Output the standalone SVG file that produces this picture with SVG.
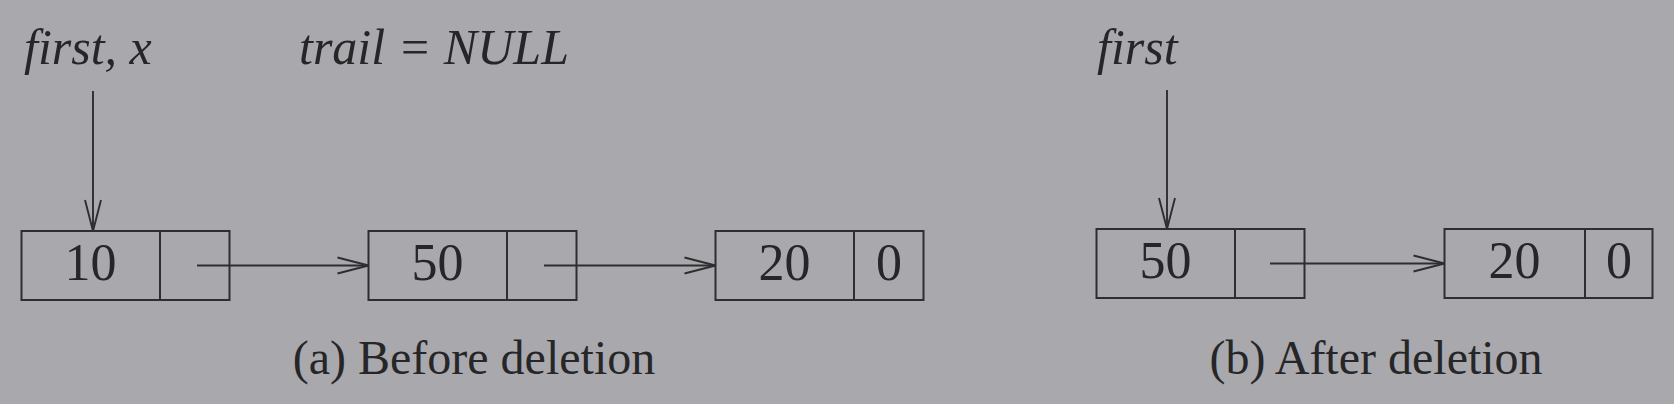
<svg xmlns="http://www.w3.org/2000/svg" width="1674" height="404" viewBox="0 0 1674 404">
<style>
.bg{fill:#a9a9ad}
.box{fill:none;stroke:#2e2e30;stroke-width:2}
.ln{fill:none;stroke:#2e2e30;stroke-width:1.9}
.t{font-family:"Liberation Serif","Times New Roman",serif;font-size:48px;fill:#262628}
.it{font-style:italic;font-size:50px}
.n{font-size:52px}
.c{text-anchor:middle}
</style>
<defs>
<marker id="ah" markerUnits="userSpaceOnUse" markerWidth="40" markerHeight="24" refX="32" refY="12" orient="auto">
<path d="M1,4 L32,12 L1,20" fill="none" stroke="#2e2e30" stroke-width="1.9"/>
</marker>
</defs>
<rect class="bg" x="0" y="0" width="1674" height="404"/>

<g id="label-first-x"><text class="t it" x="24" y="64">first, x</text></g>
<g id="label-trail"><text class="t it" x="299" y="64">trail = NULL</text></g>
<g id="label-first-b"><text class="t it" x="1097" y="64">first</text></g>

<g id="node-a10">
<rect class="box" x="21.5" y="231" width="208" height="69"/>
<line class="box" x1="160" y1="231" x2="160" y2="300"/>
<text class="t n c" x="90.5" y="280">10</text>
</g>
<g id="node-a50">
<rect class="box" x="368.5" y="231" width="208" height="69"/>
<line class="box" x1="507" y1="231" x2="507" y2="300"/>
<text class="t n c" x="437.5" y="280">50</text>
</g>
<g id="node-a20">
<rect class="box" x="715.5" y="231" width="208" height="69"/>
<line class="box" x1="854" y1="231" x2="854" y2="300"/>
<text class="t n c" x="784.5" y="280">20</text>
<text class="t n c" x="889" y="280">0</text>
</g>

<g id="node-b50">
<rect class="box" x="1096.5" y="229" width="208" height="69"/>
<line class="box" x1="1235" y1="229" x2="1235" y2="298"/>
<text class="t n c" x="1165.5" y="278">50</text>
</g>
<g id="node-b20">
<rect class="box" x="1444.5" y="229" width="208" height="69"/>
<line class="box" x1="1585" y1="229" x2="1585" y2="298"/>
<text class="t n c" x="1514.5" y="278">20</text>
<text class="t n c" x="1619" y="278">0</text>
</g>

<g id="connectors">
<line class="ln" x1="93" y1="91" x2="93" y2="231" marker-end="url(#ah)"/>
<line class="ln" x1="197" y1="265.5" x2="368.5" y2="265.5" marker-end="url(#ah)"/>
<line class="ln" x1="544" y1="265.5" x2="715.5" y2="265.5" marker-end="url(#ah)"/>
<line class="ln" x1="1167" y1="90" x2="1167" y2="229" marker-end="url(#ah)"/>
<line class="ln" x1="1270" y1="263.5" x2="1444.5" y2="263.5" marker-end="url(#ah)"/>
</g>

<g id="captions">
<text class="t c" x="474" y="374">(a) Before deletion</text>
<text class="t c" x="1376" y="374">(b) After deletion</text>
</g>
</svg>
